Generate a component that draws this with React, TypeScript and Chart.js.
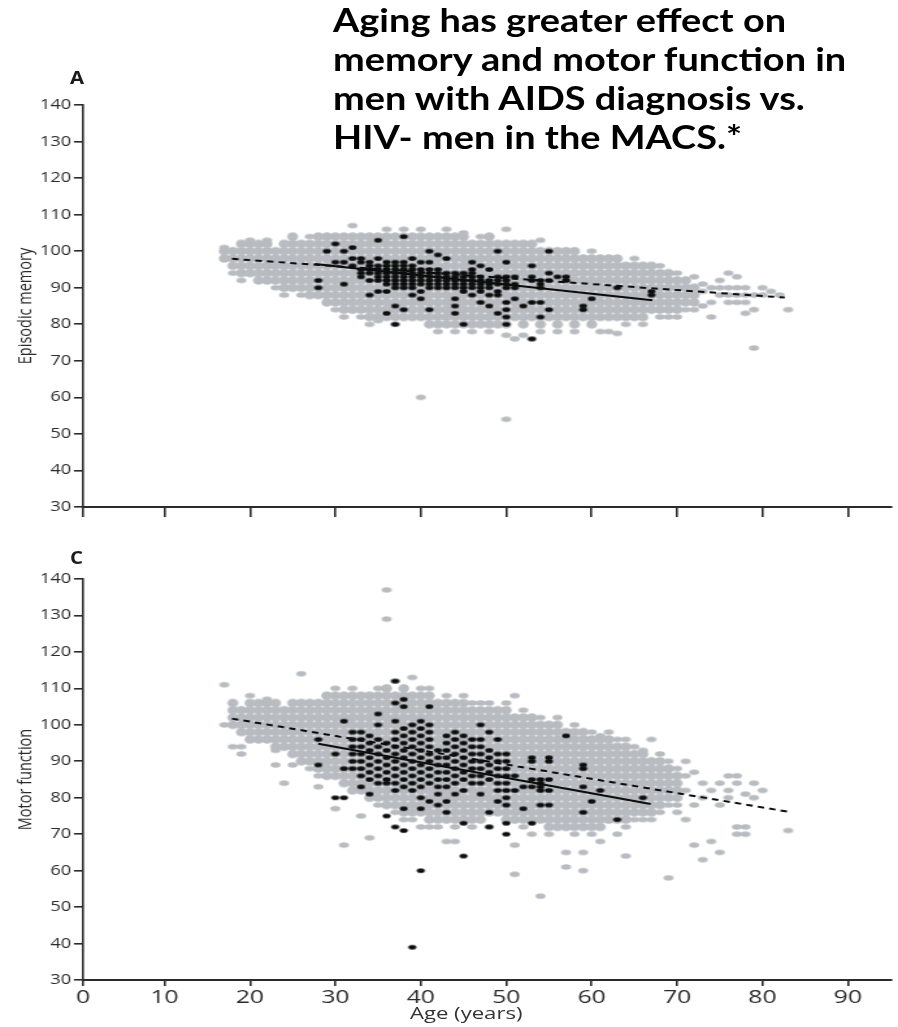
import React, { useEffect, useRef } from "react";
import { Chart, registerables } from "chart.js";

Chart.register(...registerables);

// ---------- axis tick values ----------
const xTicks = [0, 10, 20, 30, 40, 50, 60, 70, 80, 90];
const yTicks = [30, 40, 50, 60, 70, 80, 90, 100, 110, 120, 130, 140];

const titleLines = [
  "Aging has greater effect on",
  "memory and motor function in",
  "men with AIDS diagnosis vs.",
  "HIV- men in the MACS.*",
];

// ---------- Panel A: episodic memory ----------
// HIV- men, dense cloud: [age, score, score, ...]
const memoryHivNegDense: number[][] = [
  [17, 98, 100],
  [18, 96, 98, 100],
  [19, 94, 96, 98, 100, 102],
  [20, 94, 96, 98, 100, 102],
  [21, 92, 94, 96, 98, 100, 102],
  [22, 92, 94, 96, 98, 100, 102],
  [23, 92, 94, 96, 98, 100],
  [24, 90, 92, 94, 96, 98, 100, 102],
  [25, 90, 92, 94, 96, 98, 100, 102, 104],
  [26, 90, 92, 94, 96, 98, 100, 102],
  [27, 88, 90, 92, 94, 96, 98, 100, 102],
  [28, 88, 90, 92, 94, 96, 98, 100, 102, 104],
  [29, 86, 88, 90, 92, 94, 96, 98, 100, 102, 104],
  [30, 86, 88, 90, 92, 94, 96, 98, 100, 102, 104],
  [31, 84, 86, 88, 90, 92, 94, 96, 98, 100, 102, 104],
  [32, 84, 86, 88, 90, 92, 94, 96, 98, 100, 102, 104],
  [33, 84, 86, 88, 90, 92, 94, 96, 98, 100, 102, 104],
  [34, 82, 84, 86, 88, 90, 92, 94, 96, 98, 100, 102, 104],
  [35, 82, 84, 86, 88, 90, 92, 94, 96, 98, 100, 102, 104],
  [36, 82, 84, 86, 88, 90, 92, 94, 96, 98, 100, 102, 104],
  [37, 82, 84, 86, 88, 90, 92, 94, 96, 98, 100, 102, 104],
  [38, 82, 84, 86, 88, 90, 92, 94, 96, 98, 100, 102, 104],
  [39, 82, 84, 86, 88, 90, 92, 94, 96, 98, 100, 102, 104],
  [40, 82, 84, 86, 88, 90, 92, 94, 96, 98, 100, 102, 104],
  [41, 80, 82, 84, 86, 88, 90, 92, 94, 96, 98, 100, 102, 104],
  [42, 80, 82, 84, 86, 88, 90, 92, 94, 96, 98, 100, 102, 104],
  [43, 80, 82, 84, 86, 88, 90, 92, 94, 96, 98, 100, 102, 104],
  [44, 80, 82, 84, 86, 88, 90, 92, 94, 96, 98, 100, 102, 104],
  [45, 80, 82, 84, 86, 88, 90, 92, 94, 96, 98, 100, 102, 104],
  [46, 80, 82, 84, 86, 88, 90, 92, 94, 96, 98, 100, 102],
  [47, 80, 82, 84, 86, 88, 90, 92, 94, 96, 98, 100, 102],
  [48, 80, 82, 84, 86, 88, 90, 92, 94, 96, 98, 100, 102, 104],
  [49, 80, 82, 84, 86, 88, 90, 92, 94, 96, 98, 100, 102],
  [50, 80, 82, 84, 86, 88, 90, 92, 94, 96, 98, 100, 102],
  [51, 82, 84, 86, 88, 90, 92, 94, 96, 98, 100, 102],
  [52, 80, 82, 84, 86, 88, 90, 92, 94, 96, 98, 100, 102],
  [53, 82, 84, 86, 88, 90, 92, 94, 96, 98, 100, 102],
  [54, 80, 82, 84, 86, 88, 90, 92, 94, 96, 98, 100],
  [55, 82, 84, 86, 88, 90, 92, 94, 96, 98, 100],
  [56, 80, 82, 84, 86, 88, 90, 92, 94, 96, 98, 100],
  [57, 82, 84, 86, 88, 90, 92, 94, 96, 98, 100],
  [58, 80, 82, 84, 86, 88, 90, 92, 94, 96, 98, 100],
  [59, 82, 84, 86, 88, 90, 92, 94, 96, 98],
  [60, 80, 82, 84, 86, 88, 90, 92, 94, 96, 98],
  [61, 82, 84, 86, 88, 90, 92, 94, 96, 98],
  [62, 82, 84, 86, 88, 90, 92, 94, 96, 98],
  [63, 82, 84, 86, 88, 90, 92, 94, 96, 98],
  [64, 82, 84, 86, 88, 90, 92, 94, 96],
  [65, 82, 84, 86, 88, 90, 92, 94, 96],
  [66, 82, 84, 86, 88, 90, 92, 94, 96],
  [67, 84, 86, 88, 90, 92, 94, 96],
  [68, 84, 86, 88, 90, 92, 94],
  [69, 84, 86, 88, 90, 92, 94],
  [70, 84, 86, 88, 90, 92],
  [71, 86, 88, 90, 92],
  [72, 86, 88, 90],
];

// HIV- men, scattered points: [age, score]
const memoryHivNegSparse: number[][] = [
  [17, 101], [18, 94], [19, 92], [20, 103], [22, 103], [23, 90], [24, 88], [26, 88],
  [27, 104], [30, 84], [31, 82], [32, 107], [33, 82], [34, 80], [35, 81], [36, 106],
  [37, 80], [38, 106], [40, 106], [40, 60], [42, 78], [43, 106], [44, 78], [45, 105],
  [46, 78], [47, 104], [48, 78], [50, 106], [50, 77], [50, 54], [51, 76], [52, 77],
  [53, 76], [54, 103], [54, 78], [56, 78], [58, 78], [60, 100], [61, 78], [62, 78],
  [63, 77.5], [64, 80], [65, 98], [66, 80], [68, 82], [68, 96], [69, 82], [70, 82],
  [70, 94], [71, 84], [72, 84], [72, 93], [73, 85], [73, 89], [73, 91], [74, 86],
  [74, 90], [74, 82], [75, 88], [75, 90], [75, 92], [76, 86], [76, 88], [76, 90],
  [76, 94], [77, 86], [77, 88], [77, 90], [77, 93], [78, 86], [78, 88], [78, 90],
  [78, 83], [79, 84], [79, 88], [79, 73.5], [80, 88], [80, 90], [81, 89], [82, 88],
  [83, 84],
];

// men with AIDS: [age, score, score, ...]
const memoryAids: number[][] = [
  [28, 92, 90],
  [29, 100],
  [30, 102, 97],
  [31, 100, 97, 91],
  [32, 101, 98, 96],
  [33, 98, 97, 95, 94, 93],
  [34, 97, 96, 95, 94, 92, 88],
  [35, 103, 98, 96, 95, 94, 93, 92, 89],
  [36, 97, 96, 95, 94, 93, 92, 91, 89, 83],
  [37, 97, 96, 95, 94, 93, 92, 91, 90, 85, 80],
  [38, 104, 97, 96, 95, 94, 93, 92, 91, 90, 84],
  [39, 98, 96, 95, 94, 93, 92, 91, 90, 88],
  [40, 97, 95, 94, 93, 92, 91, 89, 87],
  [41, 100, 97, 95, 94, 93, 92, 91, 90, 84],
  [42, 99, 95, 94, 93, 92, 91, 90],
  [43, 98, 94, 93, 92, 91, 90],
  [44, 94, 93, 92, 91, 90, 87, 85, 83],
  [45, 94, 93, 92, 91, 90, 89, 80],
  [46, 97, 95, 94, 93, 92, 91, 90, 88],
  [47, 96, 93, 92, 91, 90, 89, 86],
  [48, 95, 92, 91, 90, 88, 85],
  [49, 100, 93, 92, 91, 89, 88, 83],
  [50, 97, 93, 92, 91, 90, 86, 84, 82, 80],
  [51, 93, 91, 90, 87],
  [52, 85],
  [53, 96, 93, 92, 86, 76],
  [54, 92, 91, 90, 86, 82],
  [55, 100, 94, 92, 84],
  [56, 93],
  [57, 93, 92],
  [59, 85, 84],
  [60, 87],
  [63, 90],
  [67, 89, 88],
];

const memoryHivNegFit: number[][] = [[17.9, 97.9], [82.6, 87.3]];
const memoryAidsFit: number[][] = [[27.6, 96.5], [67.1, 86.6]];

// ---------- Panel C: motor function ----------
const motorHivNegDense: number[][] = [
  [18, 100, 102, 104, 106],
  [19, 98, 100, 102, 104],
  [20, 96, 98, 100, 102, 104, 106],
  [21, 96, 98, 100, 102, 104, 106],
  [22, 96, 98, 100, 102, 104, 106],
  [23, 94, 96, 98, 100, 102, 104, 106],
  [24, 94, 96, 98, 100, 102, 104],
  [25, 92, 94, 96, 98, 100, 102, 104, 106],
  [26, 90, 92, 94, 96, 98, 100, 102, 104, 106],
  [27, 90, 92, 94, 96, 98, 100, 102, 104, 106],
  [28, 88, 90, 92, 94, 96, 98, 100, 102, 104, 106],
  [29, 86, 88, 90, 92, 94, 96, 98, 100, 102, 104, 106, 108],
  [30, 86, 88, 90, 92, 94, 96, 98, 100, 102, 104, 106, 108],
  [31, 84, 86, 88, 90, 92, 94, 96, 98, 100, 102, 104, 106, 108],
  [32, 82, 84, 86, 88, 90, 92, 94, 96, 98, 100, 102, 104, 106, 108],
  [33, 82, 84, 86, 88, 90, 92, 94, 96, 98, 100, 102, 104, 106, 108],
  [34, 80, 82, 84, 86, 88, 90, 92, 94, 96, 98, 100, 102, 104, 106, 108],
  [35, 80, 82, 84, 86, 88, 90, 92, 94, 96, 98, 100, 102, 104, 106, 108],
  [36, 78, 80, 82, 84, 86, 88, 90, 92, 94, 96, 98, 100, 102, 104, 106, 108, 110],
  [37, 78, 80, 82, 84, 86, 88, 90, 92, 94, 96, 98, 100, 102, 104, 106, 108],
  [38, 76, 78, 80, 82, 84, 86, 88, 90, 92, 94, 96, 98, 100, 102, 104, 106, 108, 110],
  [39, 76, 78, 80, 82, 84, 86, 88, 90, 92, 94, 96, 98, 100, 102, 104, 106, 108],
  [40, 76, 78, 80, 82, 84, 86, 88, 90, 92, 94, 96, 98, 100, 102, 104, 106, 108],
  [41, 74, 76, 78, 80, 82, 84, 86, 88, 90, 92, 94, 96, 98, 100, 102, 104, 106, 108],
  [42, 74, 76, 78, 80, 82, 84, 86, 88, 90, 92, 94, 96, 98, 100, 102, 104, 106],
  [43, 74, 76, 78, 80, 82, 84, 86, 88, 90, 92, 94, 96, 98, 100, 102, 104, 106],
  [44, 74, 76, 78, 80, 82, 84, 86, 88, 90, 92, 94, 96, 98, 100, 102, 104, 106],
  [45, 74, 76, 78, 80, 82, 84, 86, 88, 90, 92, 94, 96, 98, 100, 102, 104, 106],
  [46, 74, 76, 78, 80, 82, 84, 86, 88, 90, 92, 94, 96, 98, 100, 102, 104],
  [47, 74, 76, 78, 80, 82, 84, 86, 88, 90, 92, 94, 96, 98, 100, 102, 104],
  [48, 76, 78, 80, 82, 84, 86, 88, 90, 92, 94, 96, 98, 100, 102, 104],
  [49, 76, 78, 80, 82, 84, 86, 88, 90, 92, 94, 96, 98, 100, 102, 104],
  [50, 74, 76, 78, 80, 82, 84, 86, 88, 90, 92, 94, 96, 98, 100, 102, 104],
  [51, 74, 76, 78, 80, 82, 84, 86, 88, 90, 92, 94, 96, 98, 100, 102],
  [52, 74, 76, 78, 80, 82, 84, 86, 88, 90, 92, 94, 96, 98, 100, 102],
  [53, 74, 76, 78, 80, 82, 84, 86, 88, 90, 92, 94, 96, 98, 100, 102],
  [54, 74, 76, 78, 80, 82, 84, 86, 88, 90, 92, 94, 96, 98, 100],
  [55, 72, 74, 76, 78, 80, 82, 84, 86, 88, 90, 92, 94, 96, 98, 100],
  [56, 72, 74, 76, 78, 80, 82, 84, 86, 88, 90, 92, 94, 96, 98, 100],
  [57, 72, 74, 76, 78, 80, 82, 84, 86, 88, 90, 92, 94, 96, 98],
  [58, 72, 74, 76, 78, 80, 82, 84, 86, 88, 90, 92, 94, 96, 98],
  [59, 72, 74, 76, 78, 80, 82, 84, 86, 88, 90, 92, 94, 96, 98],
  [60, 72, 74, 76, 78, 80, 82, 84, 86, 88, 90, 92, 94, 96],
  [61, 72, 74, 76, 78, 80, 82, 84, 86, 88, 90, 92, 94, 96],
  [62, 74, 76, 78, 80, 82, 84, 86, 88, 90, 92, 94, 96],
  [63, 74, 76, 78, 80, 82, 84, 86, 88, 90, 92, 94],
  [64, 74, 76, 78, 80, 82, 84, 86, 88, 90, 92, 94],
  [65, 76, 78, 80, 82, 84, 86, 88, 90, 92],
  [66, 76, 78, 80, 82, 84, 86, 88, 90, 92],
  [67, 76, 78, 80, 82, 84, 86, 88, 90],
  [68, 78, 80, 82, 84, 86, 88, 90],
  [69, 80, 82, 84, 86, 88],
  [70, 80, 82, 84, 86],
];

const motorHivNegSparse: number[][] = [
  [17, 100], [17, 111], [18, 94], [19, 92], [19, 94], [20, 108], [22, 107], [23, 93],
  [23, 89], [24, 84], [25, 89], [26, 114], [27, 88], [28, 86], [28, 83], [29, 108],
  [30, 110], [30, 77], [31, 67], [32, 110], [33, 75], [34, 69], [35, 110], [35, 78],
  [36, 129], [36, 137], [37, 112], [37, 76], [38, 74], [39, 113], [39, 74], [40, 110],
  [40, 72], [41, 110], [41, 72], [42, 72], [43, 108], [43, 68], [44, 68], [44, 72],
  [45, 108], [46, 106], [46, 72], [47, 106], [48, 106], [48, 72], [50, 106], [51, 108],
  [51, 67], [51, 59], [52, 104], [52, 72], [53, 70], [54, 53], [54, 102], [55, 70],
  [56, 102], [57, 65], [57, 61], [58, 100], [58, 70], [59, 65], [59, 60], [60, 98],
  [60, 70], [61, 97], [61, 68], [62, 98], [63, 96], [63, 70], [64, 96], [64, 64],
  [64, 72], [65, 94], [65, 74], [66, 93], [66, 74], [67, 96], [67, 74], [68, 92],
  [68, 76], [69, 90], [69, 78], [69, 58], [70, 88], [70, 78], [70, 76], [71, 90],
  [71, 86], [71, 82], [71, 74], [72, 87], [72, 78], [72, 67], [73, 84], [73, 80],
  [73, 63], [74, 68], [74, 82], [75, 84], [75, 78], [75, 65], [76, 86], [76, 82],
  [76, 80], [77, 86], [77, 84], [77, 72], [77, 70], [78, 81], [78, 72], [78, 70],
  [79, 84], [79, 80], [80, 82], [83, 71],
];

const motorAids: number[][] = [
  [28, 96, 89],
  [30, 92, 80],
  [31, 101, 88, 80],
  [32, 98, 96, 94, 92, 90, 88],
  [33, 98, 96, 94, 92, 90, 88, 86, 83],
  [34, 97, 95, 93, 91, 89, 87, 85, 81],
  [35, 103, 100, 96, 94, 92, 90, 88, 86, 84],
  [36, 95, 93, 91, 89, 87, 85, 84, 75],
  [37, 112, 106, 101, 98, 96, 94, 92, 90, 88, 86, 84, 82, 72],
  [38, 107, 105, 99, 97, 95, 93, 91, 89, 87, 85, 83, 77, 71],
  [39, 100, 98, 96, 94, 92, 90, 88, 86, 84, 82, 39],
  [40, 101, 99, 97, 95, 93, 91, 89, 87, 85, 83, 80, 77, 60],
  [41, 105, 100, 98, 96, 94, 92, 90, 88, 86, 84, 79],
  [42, 93, 91, 89, 87, 85, 83, 81, 78],
  [43, 97, 95, 93, 91, 89, 87, 85, 83, 79, 76],
  [44, 98, 96, 94, 92, 90, 88, 86, 84, 81],
  [45, 97, 95, 93, 91, 89, 87, 85, 82, 73, 64],
  [46, 96, 94, 92, 90, 88, 86, 84],
  [47, 100, 96, 94, 92, 90, 88, 86, 84, 81],
  [48, 98, 93, 91, 89, 87, 85, 76, 72],
  [49, 96, 92, 90, 88, 86, 84, 82, 79],
  [50, 92, 90, 88, 86, 84, 82, 80, 78, 73, 70],
  [51, 86, 82],
  [52, 83, 77],
  [53, 91, 90, 85, 83, 73],
  [54, 85, 84, 83, 82, 78],
  [55, 91, 90, 85, 82, 78],
  [57, 97],
  [59, 89, 88, 83, 76],
  [60, 79],
  [61, 82],
  [63, 74],
  [66, 80],
];

const motorHivNegFit: number[][] = [[17.9, 101.7], [82.9, 76.2]];
const motorAidsFit: number[][] = [[28.0, 94.8], [66.9, 78.3]];

// ---------- rendering ----------
const PAGE_W = 898;
const CANVAS_W = 691; // drawn narrower, then stretched horizontally like the source image
const SX = PAGE_W / CANVAS_W;
const X_MIN = 0.46;
const X_MAX = 95.1;
const AXIS = "#2b2b2b";
const GRAY = "#b8bcc1";
const INK = "#0d0d0d";

const cols = (c: number[][]) => c.flatMap(([x, ...ys]) => ys.map((y) => ({ x, y })));
const pairs = (p: number[][]) => p.map(([x, y]) => ({ x, y }));

function dot(wPage: number, h: number, color: string): HTMLCanvasElement {
  const w = wPage / SX;
  const c = document.createElement("canvas");
  c.width = Math.ceil(w) + 2;
  c.height = Math.ceil(h) + 2;
  const ctx = c.getContext("2d")!;
  ctx.fillStyle = color;
  ctx.beginPath();
  ctx.ellipse(c.width / 2, c.height / 2, w / 2, h / 2, 0, 0, Math.PI * 2);
  ctx.fill();
  return c;
}

type PanelProps = {
  top: number;
  height: number;
  padTop: number;
  xAxisH: number;
  xTickLen: number;
  showXLabels: boolean;
  yTitle: string;
  dense: number[][];
  sparse: number[][];
  aids: number[][];
  negFit: number[][];
  aidsFit: number[][];
};

function Panel(p: PanelProps) {
  const ref = useRef<HTMLCanvasElement>(null);
  useEffect(() => {
    const canvas = ref.current!;
    const denseDot = dot(11, 8.5, GRAY);
    const sparseDot = dot(10, 5.5, GRAY);
    const blackDot = dot(8, 4.6, INK);
    const chart = new Chart(canvas, {
      type: "scatter",
      data: {
        datasets: [
          { data: cols(p.dense), pointStyle: denseDot as any, pointRadius: 3, order: 4 },
          { data: pairs(p.sparse), pointStyle: sparseDot as any, pointRadius: 3, order: 3 },
          { data: cols(p.aids), pointStyle: blackDot as any, pointRadius: 3, order: 2 },
          {
            type: "line" as any,
            data: pairs(p.negFit),
            borderColor: INK,
            borderWidth: 2,
            borderDash: [5, 4],
            pointRadius: 0,
            showLine: true,
            fill: false,
            order: 1,
          } as any,
          {
            type: "line" as any,
            data: pairs(p.aidsFit),
            borderColor: INK,
            borderWidth: 2,
            pointRadius: 0,
            showLine: true,
            fill: false,
            order: 0,
          } as any,
        ],
      },
      options: {
        responsive: false,
        animation: false,
        events: [],
        layout: { padding: { top: p.padTop, left: 0, right: 0, bottom: 0 } },
        plugins: { legend: { display: false }, tooltip: { enabled: false } },
        scales: {
          x: {
            type: "linear",
            min: X_MIN,
            max: X_MAX,
            afterBuildTicks: (s: any) => {
              s.ticks = xTicks.map((v) => ({ value: Math.max(v, X_MIN) }));
            },
            afterFit: (s: any) => {
              s.height = p.xAxisH;
            },
            grid: {
              drawOnChartArea: false,
              drawTicks: true,
              tickLength: p.xTickLen,
              color: AXIS,
              lineWidth: 1.6,
            },
            border: { display: true, color: AXIS, width: 2 },
            ticks: {
              display: p.showXLabels,
              autoSkip: false,
              maxRotation: 0,
              padding: 0,
              color: AXIS,
              font: { family: "Open Sans", size: 19 },
              callback: (_v: any, i: number) => String(xTicks[i]),
            },
          },
          y: {
            type: "linear",
            min: 30,
            max: 140,
            afterBuildTicks: (s: any) => {
              s.ticks = yTicks.map((v) => ({ value: v }));
            },
            afterFit: (s: any) => {
              s.width = 83 / SX;
            },
            grid: {
              drawOnChartArea: false,
              drawTicks: true,
              tickLength: 7,
              color: AXIS,
              lineWidth: 1.6,
            },
            border: { display: true, color: AXIS, width: 1.6 },
            ticks: {
              padding: 2,
              color: AXIS,
              font: { family: "Open Sans", size: 14 },
            },
            title: {
              display: true,
              text: p.yTitle,
              color: AXIS,
              font: { family: "Open Sans", size: 14.5 },
              padding: { top: 11, bottom: 0 },
            },
          },
        },
      } as any,
    });
    return () => chart.destroy();
  }, []);
  return (
    <canvas
      ref={ref}
      width={CANVAS_W}
      height={p.height}
      style={{
        position: "absolute",
        left: 0,
        top: p.top,
        width: PAGE_W + "px",
        height: p.height + "px",
      }}
    />
  );
}

const letterStyle: React.CSSProperties = {
  position: "absolute",
  left: 70,
  fontFamily: "'Open Sans', sans-serif",
  fontWeight: 700,
  fontSize: 17,
  lineHeight: "17px",
  color: "#1a1a1a",
  transform: "scaleX(1.2)",
  transformOrigin: "left top",
};

export default function App() {
  return (
    <div
      style={{
        position: "absolute",
        left: 0,
        top: 0,
        width: PAGE_W,
        height: 1027,
        background: "#fff",
        overflow: "hidden",
      }}
    >
      <Panel
        top={0}
        height={530}
        padTop={105}
        xAxisH={23}
        xTickLen={10}
        showXLabels={false}
        yTitle="Episodic memory"
        dense={memoryHivNegDense}
        sparse={memoryHivNegSparse}
        aids={memoryAids}
        negFit={memoryHivNegFit}
        aidsFit={memoryAidsFit}
      />
      <Panel
        top={530}
        height={497}
        padTop={49}
        xAxisH={47}
        xTickLen={6}
        showXLabels={true}
        yTitle="Motor function"
        dense={motorHivNegDense}
        sparse={motorHivNegSparse}
        aids={motorAids}
        negFit={motorHivNegFit}
        aidsFit={motorAidsFit}
      />
      <div
        style={{
          position: "absolute",
          left: 333,
          top: 0,
          fontFamily: "Lato, 'Open Sans', sans-serif",
          fontWeight: 700,
          fontSize: 32,
          lineHeight: "39px",
          color: "#000",
          whiteSpace: "pre",
          transform: "scaleX(1.185)",
          transformOrigin: "left top",
        }}
      >
        {titleLines.join("\n")}
      </div>
      <div style={{ ...letterStyle, top: 69 }}>A</div>
      <div style={{ ...letterStyle, top: 549 }}>C</div>
      <div
        style={{
          position: "absolute",
          left: 410,
          top: 1004,
          fontFamily: "'Open Sans', sans-serif",
          fontSize: 17,
          lineHeight: "17px",
          color: "#333",
          whiteSpace: "pre",
          transform: "scaleX(1.3)",
          transformOrigin: "left top",
        }}
      >
        Age (years)
      </div>
    </div>
  );
}
